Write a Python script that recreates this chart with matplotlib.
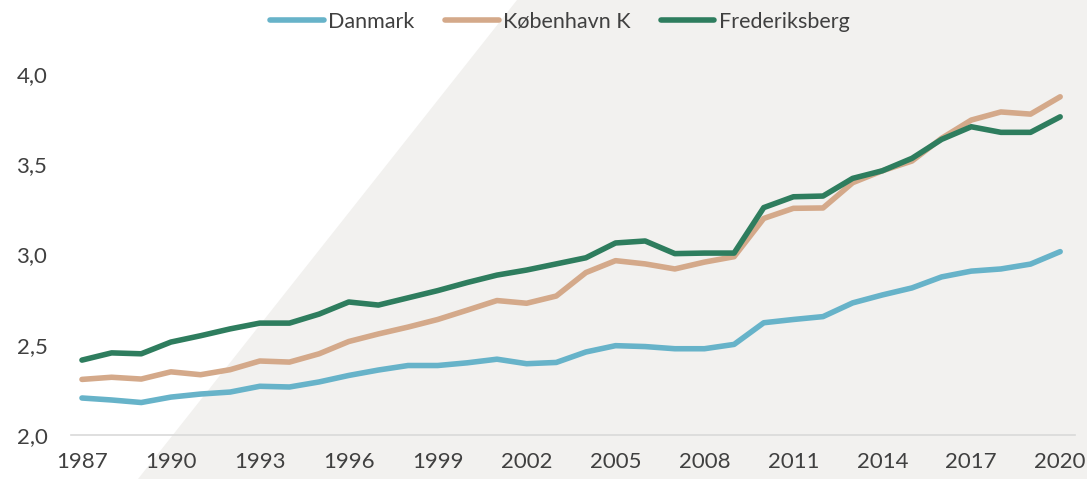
import matplotlib
matplotlib.use("Agg")
import matplotlib.pyplot as plt
from matplotlib.patches import Polygon

years = list(range(1987, 2021))
danmark = [2.205, 2.194, 2.180, 2.210, 2.227, 2.238, 2.270, 2.266, 2.294, 2.330,
           2.360, 2.385, 2.385, 2.400, 2.420, 2.395, 2.402, 2.460, 2.495, 2.490,
           2.478, 2.478, 2.502, 2.622, 2.640, 2.656, 2.732, 2.776, 2.815, 2.876,
           2.908, 2.920, 2.947, 3.016]
koebenhavn = [2.308, 2.320, 2.310, 2.350, 2.334, 2.362, 2.410, 2.404, 2.450, 2.518,
              2.560, 2.598, 2.640, 2.692, 2.745, 2.730, 2.770, 2.900, 2.966, 2.948,
              2.920, 2.958, 2.988, 3.200, 3.256, 3.258, 3.398, 3.464, 3.518, 3.644,
              3.745, 3.790, 3.778, 3.874]
frederiksberg = [2.415, 2.455, 2.450, 2.515, 2.550, 2.588, 2.620, 2.620, 2.670, 2.737,
                 2.720, 2.760, 2.800, 2.845, 2.886, 2.914, 2.948, 2.982, 3.064, 3.075,
                 3.005, 3.008, 3.008, 3.260, 3.320, 3.324, 3.422, 3.464, 3.533, 3.638,
                 3.708, 3.677, 3.677, 3.763]
series_names = ["Danmark", "København K", "Frederiksberg"]
xticks = list(range(1987, 2021, 3))
yticks = [2.0, 2.5, 3.0, 3.5, 4.0]

colors = ["#67B3C9", "#D4A98A", "#2E7D5E"]
text_color = "#404040"

plt.rcParams['font.family'] = ['Lato', 'DejaVu Sans']

W, H = 1087, 479
fig = plt.figure(figsize=(W / 100, H / 100), dpi=100)
fig.patch.set_facecolor("white")

# background axes holding the diagonal gray shape
bg = fig.add_axes([0, 0, 1, 1], zorder=-10)
bg.set_xlim(0, 1)
bg.set_ylim(0, 1)
bg.axis("off")
bg.add_patch(Polygon([(517 / W, 1.0), (1.0, 1.0), (1.0, 0.0), (138 / W, 0.0)],
                     closed=True, facecolor="#F2F1EF", edgecolor="none"))

left, right = 71 / W, 1075 / W
bottom, top = 1 - 435 / H, 1 - 56 / H
ax = fig.add_axes([left, bottom, right - left, top - bottom], zorder=1)
ax.patch.set_alpha(0)

for vals, name, c in zip([danmark, koebenhavn, frederiksberg], series_names, colors):
    ax.plot(years, vals, color=c, lw=4.0, label=name, solid_capstyle="round",
            solid_joinstyle="round")

ax.set_xlim(1986.63, 2020.5)
ax.set_ylim(2.0, 4.1)
ax.set_xticks(xticks)
ax.set_yticks(yticks)
ax.set_yticklabels([f"{v:.1f}".replace(".", ",") for v in yticks])
for s in ["top", "right", "left"]:
    ax.spines[s].set_visible(False)
ax.spines["bottom"].set_color("#D9D9D9")
ax.spines["bottom"].set_linewidth(1.2)
ax.tick_params(axis="both", length=0, labelsize=16, colors=text_color)
ax.tick_params(axis="y", pad=17)
ax.tick_params(axis="x", pad=12)

fig.legend(loc="center", bbox_to_anchor=(0.515, 1 - 22 / H), ncol=3, frameon=False,
           fontsize=15.5, handlelength=2.5, handletextpad=0.2, columnspacing=1.4,
           labelcolor=text_color)

fig.savefig("out.png", dpi=100)
